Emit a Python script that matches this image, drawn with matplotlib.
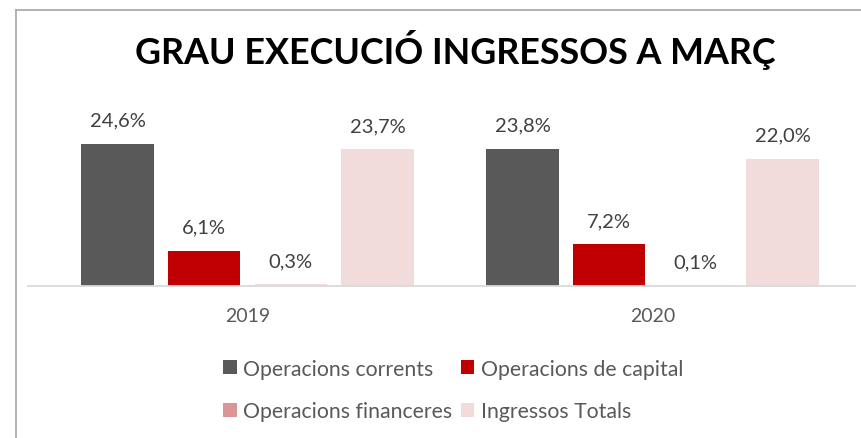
import matplotlib
matplotlib.use("Agg")
import matplotlib.pyplot as plt
from matplotlib.lines import Line2D
from matplotlib.patches import Patch
import numpy as np

categories = ["2019", "2020"]
series_names = ["Operacions corrents", "Operacions de capital",
                "Operacions financeres", "Ingressos Totals"]
values = {
    "Operacions corrents": [24.6, 23.8],
    "Operacions de capital": [6.1, 7.2],
    "Operacions financeres": [0.3, 0.1],
    "Ingressos Totals": [23.7, 22.0],
}
colors = ["#595959", "#C00000", "#D99694", "#F2DCDB"]
title = "GRAU EXECUCIÓ INGRESSOS A MARÇ"

plt.rcParams['font.family'] = ['Lato', 'DejaVu Sans']

W, H = 861, 439
fig = plt.figure(figsize=(W / 100, H / 100), dpi=100)

# axes: baseline at y=287 px, left 28 px, right 855 px
ax_left, ax_right = 28, 855
ax_bottom, ax_top = 287, 100
ax = fig.add_axes([ax_left / W, 1 - ax_bottom / H,
                   (ax_right - ax_left) / W, (ax_bottom - ax_top) / H])

x = np.arange(len(categories))
spacing = 0.214
width = 0.178
offsets = (np.arange(4) - 1.5) * spacing
ymax = (ax_bottom - ax_top) / 5.775
for i, name in enumerate(series_names):
    vals = values[name]
    bar_color = colors[i] if i != 2 else "#F2DCDB"
    ax.bar(x + offsets[i], vals, width=width, color=bar_color, zorder=2)
    for xi, v in zip(x + offsets[i], vals):
        ax.annotate(f"{v:.1f}%".replace(".", ","), (xi, v),
                    xytext=(0, 17), textcoords="offset points",
                    ha="center", va="center", fontsize=14.5, color="#404040")

ax.set_xlim(-0.542, 1.5)
ax.set_ylim(0, ymax)
for s in ["top", "right", "left"]:
    ax.spines[s].set_visible(False)
ax.spines["bottom"].set_color("#D9D9D9")
ax.spines["bottom"].set_linewidth(1.3)
ax.set_yticks([])
ax.set_xticks(x)
ax.set_xticklabels(categories, fontsize=14, color="#595959")
ax.tick_params(axis="x", length=0, pad=15)

fig.text(455 / W, 1 - 50 / H, title, ha="center", va="center",
         fontsize=25.8, fontweight="bold", color="#000000")

# chart frame (partially visible)
fig.add_artist(Line2D([16 / W, 1.0], [1 - 11 / H, 1 - 11 / H],
                      transform=fig.transFigure, color="#A6A6A6", lw=1.2))
fig.add_artist(Line2D([16 / W, 16 / W], [1 - 11 / H, 0],
                      transform=fig.transFigure, color="#A6A6A6", lw=1.2))

order = [0, 2, 1, 3]  # row-major fill as in reference
handles = [Patch(facecolor=colors[i], edgecolor="none") for i in order]
labels = [series_names[i] for i in order]
leg = fig.legend(handles, labels, ncol=2, loc="center",
                 bbox_to_anchor=(453 / W, 1 - 391 / H), frameon=False,
                 fontsize=15.3, handlelength=0.65, handleheight=0.65,
                 handletextpad=0.3, columnspacing=0.4, labelspacing=1.08,
                 labelcolor="#595959", borderpad=0)

fig.savefig("out.png", dpi=100)
